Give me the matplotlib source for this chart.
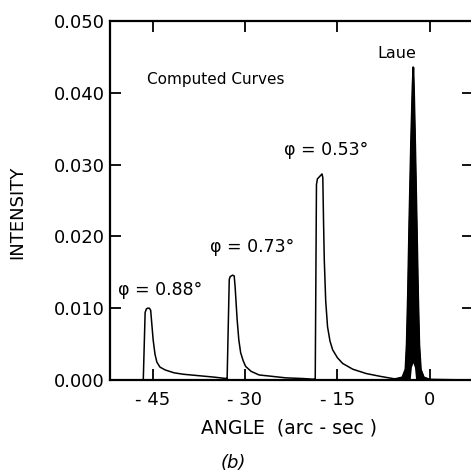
import matplotlib
matplotlib.use('Agg')
import matplotlib.pyplot as plt

# rocking curves (angle in arc-sec, intensity)
ang_088 = [-52.0, -46.5, -46.2, -46.0, -45.8, -45.5, -45.3, -44.9, -44.6, -44.3, -43.8,
           -42.95, -41.5, -40.0, -37.5, -35.0, -33.0]
int_088 = [0.0, 0.0, 0.0094, 0.0099, 0.0100, 0.0100, 0.0097, 0.0056, 0.0036, 0.0025, 0.0018,
           0.0014, 0.0010, 0.0008, 0.0006, 0.0004, 0.0002]

ang_073 = [-33.0, -32.9, -32.55, -32.4, -32.0, -31.75, -31.6, -31.27, -31.0, -30.7, -30.3,
           -29.9, -29.0, -27.7, -25.5, -23.4, -20.5, -18.8]
int_073 = [0.0002, 0.0, 0.0140, 0.0144, 0.0146, 0.0145, 0.0130, 0.0084, 0.0056, 0.0038, 0.0027,
           0.0019, 0.0012, 0.0007, 0.0005, 0.0003, 0.0002, 0.0001]

ang_053 = [-18.8, -18.6, -18.4, -18.25, -17.5, -17.37, -17.25, -17.13, -16.9, -16.6, -16.2,
           -15.77, -15.0, -14.14, -12.5, -10.33, -8.0, -6.0, -4.5]
int_053 = [0.0001, 0.0, 0.0272, 0.0280, 0.0287, 0.0282, 0.0220, 0.0167, 0.0110, 0.0074, 0.0054,
           0.0042, 0.0031, 0.0023, 0.0015, 0.0009, 0.0005, 0.0002, 0.0]

ang_laue = [-6.0, -4.5, -4.0, -3.8, -3.6, -3.38, -3.1, -2.85, -2.72, -2.6, -2.4,
            -2.17, -1.95, -1.75, -1.5, -1.0, 0.0, 7.0]
int_laue = [0.0001, 0.0004, 0.0015, 0.005, 0.012, 0.022, 0.033, 0.041, 0.0436, 0.040, 0.032,
            0.022, 0.012, 0.005, 0.0015, 0.0004, 0.0001, 0.0]
# white gap between the two Laue curves near the base
ang_gap = [-3.2, -3.0, -2.75, -2.5, -2.3]
int_gap = [0.0, 0.0018, 0.0024, 0.0018, 0.0]

xticks = [-45, -30, -15, 0]
yticks = [0.0, 0.01, 0.02, 0.03, 0.04, 0.05]

labels = ['\u03c6 = 0.88\u00b0', '\u03c6 = 0.73\u00b0', '\u03c6 = 0.53\u00b0']
label_x = [-43.7, -28.9, -16.8]
label_y = [0.0125, 0.0185, 0.0320]

W, H = 471, 473
fig = plt.figure(figsize=(W / 100, H / 100), dpi=100)
ax = fig.add_axes([110 / W, 93 / H, 363 / W, 359 / H])

for a, i in [(ang_088, int_088), (ang_073, int_073), (ang_053, int_053)]:
    ax.plot(a, i, color='black', lw=1.1)

ax.fill_between(ang_laue, int_laue, color='black', lw=1.0)
ax.plot(ang_laue, int_laue, color='black', lw=1.0)
ax.fill_between(ang_gap, int_gap, color='white', lw=0)
ax.axhline(0, color='black', lw=2)

ax.set_xlim(-51.9, 7.0)
ax.set_ylim(0, 0.05)
ax.set_xticks(xticks)
ax.set_xticklabels(['- 45', '- 30', '- 15', '0'])
ax.set_yticks(yticks)
ax.set_yticklabels(['%.3f' % v for v in yticks])
ax.tick_params(direction='in', top=True, right=True, length=8, width=1.3,
               labelsize=13, color='black')
ax.tick_params(axis='x', pad=8)
ax.tick_params(axis='y', pad=4)
for s in ax.spines.values():
    s.set_linewidth(1.6)

for t, x, y in zip(labels, label_x, label_y):
    ax.text(x, y, t, fontsize=12.5, ha='center', va='center')
ax.text(-34.7, 0.0418, 'Computed Curves', fontsize=11, ha='center', va='center')
ax.text(-5.3, 0.0455, 'Laue', fontsize=11.5, ha='center', va='center')

fig.text(17 / W, 1 - 212 / H, 'INTENSITY', rotation=90, fontsize=13,
         ha='center', va='center')
fig.text(289 / W, 1 - 428 / H, 'ANGLE  (arc - sec )', fontsize=13.5,
         ha='center', va='center')
fig.text(233 / W, 1 - 463 / H, '(b)', fontsize=13, style='italic',
         ha='center', va='center')

plt.savefig('out.png', dpi=100)
